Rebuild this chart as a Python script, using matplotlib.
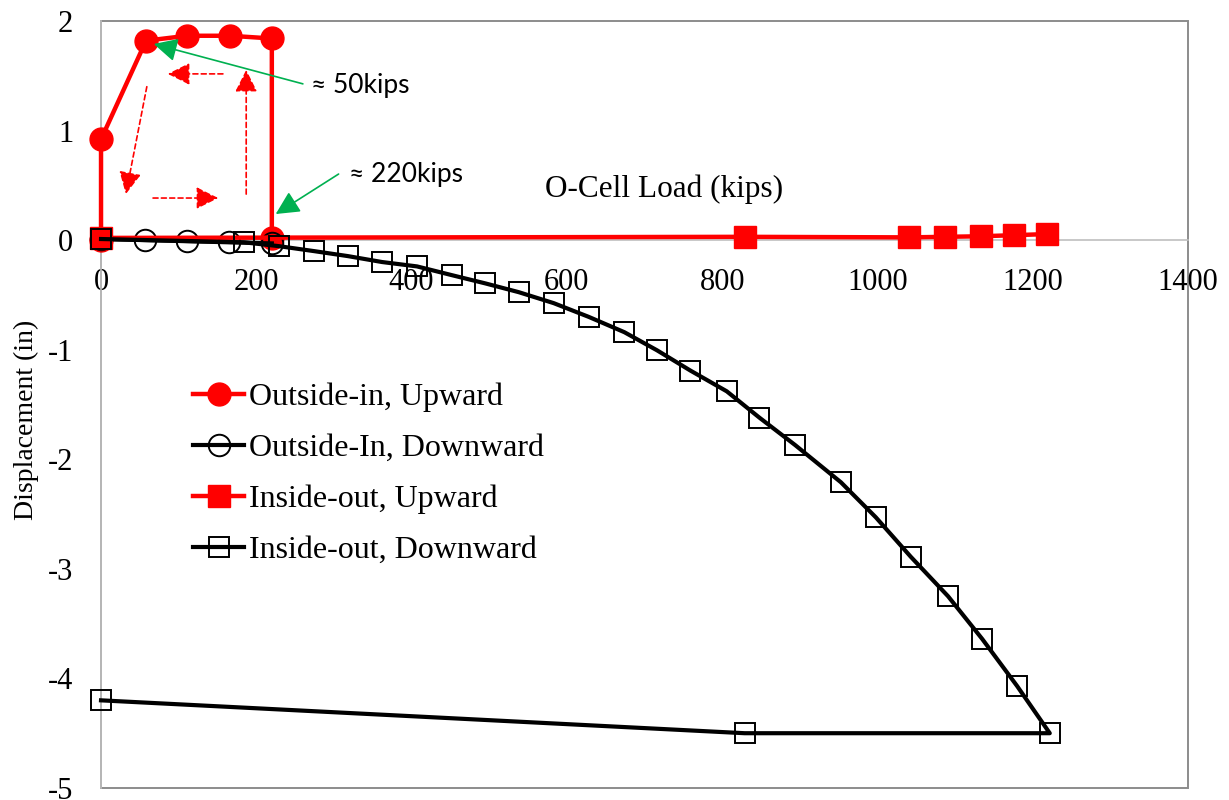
import numpy as np
import matplotlib
matplotlib.use("Agg")
import matplotlib.pyplot as plt
from matplotlib.patches import Rectangle

plt.rcParams.update({
    "font.family": "Liberation Serif",
    "font.size": 22,
    "xtick.labelsize": 22,
    "ytick.labelsize": 22,
    "legend.fontsize": 23,
    "axes.unicode_minus": False,
})

# O-cell load (kips) vs displacement (in)
oi_up_load = [0, 0, 58, 111, 166, 220, 220]
oi_up_disp = [0.0, 0.92, 1.82, 1.865, 1.865, 1.84, 0.02]

oi_down_load = [0, 56, 111, 165, 220]
oi_down_disp = [0.01, 0.0, -0.01, -0.02, -0.03]

io_up_load = [0, 829, 1041, 1087, 1133, 1176, 1218]
io_up_disp = [0.02, 0.03, 0.025, 0.03, 0.035, 0.045, 0.055]

io_down_load = [0, 184, 229, 274, 318, 362, 407, 452, 495, 538, 583, 628,
                674, 716, 759, 806, 848, 894, 953, 998, 1043, 1091, 1135,
                1180, 1222, 829, 0]
io_down_disp = [0.01, -0.02, -0.055, -0.10, -0.146, -0.20, -0.24, -0.32,
                -0.395, -0.475, -0.575, -0.70, -0.84, -1.005, -1.19, -1.38,
                -1.62, -1.87, -2.21, -2.53, -2.89, -3.25, -3.64, -4.07,
                -4.50, -4.50, -4.20]

RED = "#FF0000"
GREEN = "#00B050"

fig = plt.figure(figsize=(12.29, 8.0), dpi=100)
ax = fig.add_axes([0.0822, 0.015, 0.8844, 0.9588])

ax.plot(oi_up_load, oi_up_disp, color=RED, lw=3.2, marker="o", ms=16.5,
        mfc=RED, mec=RED, label="Outside-in, Upward", zorder=3, clip_on=False)
ax.plot(oi_down_load, oi_down_disp, color="black", lw=3.0, marker="o",
        ms=15.5, mfc="none", mec="black", mew=1.4,
        label="Outside-In, Downward", zorder=3, clip_on=False)
ax.plot(io_up_load, io_up_disp, color=RED, lw=3.2, marker="s", ms=15.5,
        mfc=RED, mec=RED, label="Inside-out, Upward", zorder=3, clip_on=False)
ax.plot(io_down_load, io_down_disp, color="black", lw=3.0, marker="s",
        ms=15, mfc="none", mec="black", mew=1.4,
        label="Inside-out, Downward", zorder=3, clip_on=False)

ax.set_xlim(0, 1400)
ax.set_ylim(-5, 2)
ax.set_xticks(np.arange(0, 1401, 200))
ax.set_yticks(np.arange(-5, 3, 1))

# x axis crosses at zero, plot area boxed in grey
for side in ["top", "right"]:
    ax.spines[side].set_visible(False)
ax.spines["bottom"].set_position(("data", 0))
ax.spines["bottom"].set_color("#BFBFBF")
ax.spines["left"].set_color("#BFBFBF")
ax.spines["bottom"].set_linewidth(1.2)
ax.spines["left"].set_linewidth(1.2)
ax.add_patch(Rectangle((0, 0), 1, 1, transform=ax.transAxes, fill=False,
                       edgecolor="#8C8C8C", lw=1.4, clip_on=False, zorder=1))
ax.tick_params(axis="both", length=0)
ax.tick_params(axis="x", pad=20)
ax.tick_params(axis="y", pad=20)

ax.set_xlabel("O-Cell Load (kips)", fontsize=22.5)
ax.xaxis.set_label_coords(0.518, 0.781)
ax.xaxis.label.set_va("center")
ax.set_ylabel("Displacement (in)", fontsize=20)
ax.yaxis.set_label_coords(-0.069, 0.48)
ax.yaxis.label.set_va("center")

ax.legend(loc="upper left", bbox_to_anchor=(193 / 1229, 1 - 383 / 800),
          bbox_transform=fig.transFigure, frameon=False, borderpad=0,
          borderaxespad=0, handlelength=1.6, handletextpad=0.15,
          labelspacing=0.67)

# loading path arrows
red_arrow = dict(arrowstyle="-|>", color=RED, lw=1.2, ls=(0, (3, 2)),
                 mutation_scale=34, shrinkA=0, shrinkB=0)
ax.annotate("", xy=(86, 1.517), xytext=(157, 1.517), arrowprops=red_arrow)
ax.annotate("", xy=(187, 1.554), xytext=(187, 0.42), arrowprops=red_arrow)
ax.annotate("", xy=(32, 0.42), xytext=(59, 1.40), arrowprops=red_arrow)
ax.annotate("", xy=(151, 0.384), xytext=(67, 0.384), arrowprops=red_arrow)

green_arrow = dict(arrowstyle="-|>", color=GREEN, lw=1.2,
                   mutation_scale=36, shrinkA=0, shrinkB=0)
ax.annotate("", xy=(68, 1.79), xytext=(260, 1.426), arrowprops=green_arrow)
ax.annotate("", xy=(225, 0.238), xytext=(306, 0.603), arrowprops=green_arrow)
ax.text(270, 1.41, "\u2248 50kips", family="Lato", fontsize=19,
        ha="left", va="center")
ax.text(319, 0.595, "\u2248 220kips", family="Lato", fontsize=19,
        ha="left", va="center")

fig.savefig("out.png", dpi=100)
